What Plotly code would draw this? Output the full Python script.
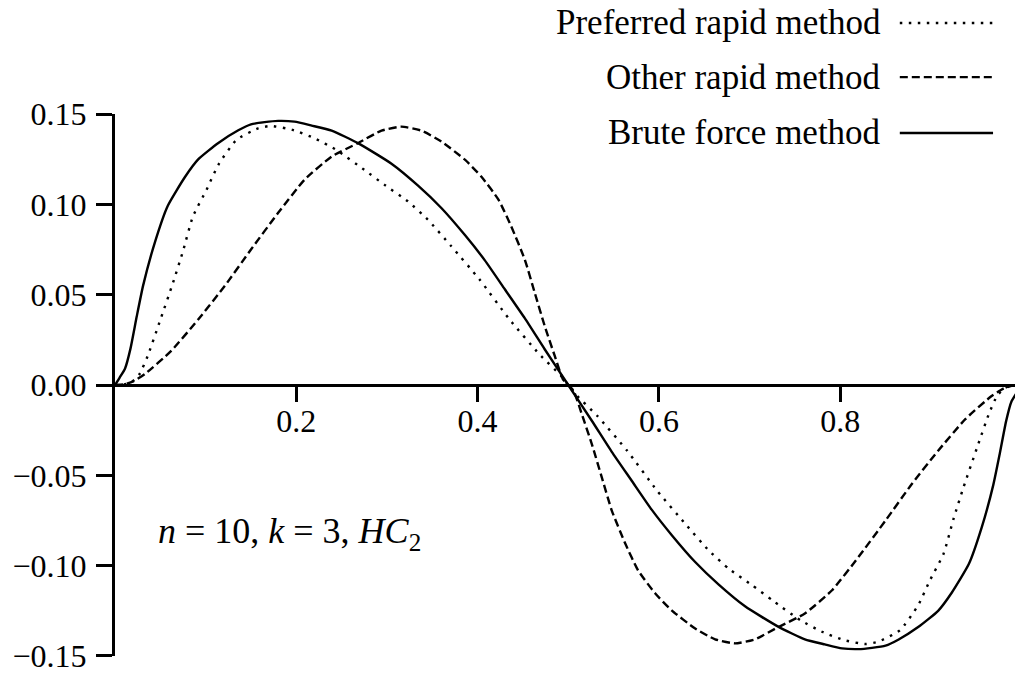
import plotly.graph_objects as go

# ---- data ----
brute_x = [0, 0.005, 0.011, 0.017, 0.024, 0.031, 0.044, 0.058, 0.077, 0.092, 0.114, 0.136, 0.150,
           0.165, 0.180, 0.198, 0.217, 0.239, 0.268, 0.305, 0.334, 0.360, 0.386, 0.408, 0.430,
           0.452, 0.474, 0.500,
           0.526, 0.548, 0.570, 0.592, 0.614, 0.640, 0.666, 0.695, 0.732, 0.761, 0.783, 0.802,
           0.820, 0.835, 0.850, 0.864, 0.886, 0.908, 0.923, 0.942, 0.956, 0.969, 0.976, 0.983,
           0.989, 0.995, 1.0]
brute_y = [0, 0.004, 0.009, 0.020, 0.038, 0.055, 0.079, 0.099, 0.115, 0.125, 0.134, 0.141, 0.1443,
           0.1455, 0.1462, 0.1458, 0.1436, 0.1408, 0.1339, 0.1225, 0.1105, 0.098, 0.083, 0.069, 0.053,
           0.037, 0.0198, 0,
           -0.0198, -0.037, -0.053, -0.069, -0.083, -0.098, -0.1105, -0.1225, -0.1339, -0.1408, -0.1436, -0.1458,
           -0.1462, -0.1455, -0.1443, -0.141, -0.134, -0.125, -0.115, -0.099, -0.079, -0.055, -0.038, -0.020,
           -0.009, -0.004, 0]

pref_x = [0, 0.010, 0.018, 0.027, 0.036, 0.049, 0.064, 0.075, 0.086, 0.101, 0.114, 0.134, 0.158,
          0.172, 0.196, 0.220, 0.244, 0.275, 0.297, 0.323, 0.345, 0.371, 0.402, 0.435, 0.468, 0.492, 0.5,
          0.508, 0.532, 0.565, 0.598, 0.629, 0.655, 0.677, 0.703, 0.725, 0.756, 0.780, 0.804, 0.828,
          0.842, 0.866, 0.886, 0.899, 0.914, 0.925, 0.936, 0.951, 0.964, 0.973, 0.982, 0.990, 1.0]
pref_y = [0, 0.0003, 0.0015, 0.006, 0.016, 0.0346, 0.0566, 0.0741, 0.0934, 0.1081, 0.1219, 0.1357, 0.1421,
          0.1434, 0.1412, 0.1366, 0.1302, 0.1191, 0.1109, 0.1017, 0.0916, 0.0768, 0.0585, 0.0364, 0.0171, 0.0051, 0,
          -0.0051, -0.0171, -0.0364, -0.0585, -0.0768, -0.0916, -0.1017, -0.1109, -0.1191, -0.1302, -0.1366, -0.1412, -0.1434,
          -0.1421, -0.1357, -0.1219, -0.1081, -0.0934, -0.0741, -0.0566, -0.0346, -0.016, -0.006, -0.0015, -0.0003, 0]

other_x = [0, 0.010, 0.020, 0.033, 0.062, 0.092, 0.121, 0.150, 0.180, 0.209, 0.239, 0.268, 0.294,
           0.316, 0.338, 0.360, 0.386, 0.404, 0.423, 0.437, 0.452, 0.463, 0.474, 0.485, 0.494, 0.5,
           0.506, 0.515, 0.526, 0.537, 0.548, 0.563, 0.577, 0.596, 0.614, 0.640, 0.662, 0.684, 0.706,
           0.732, 0.761, 0.791, 0.820, 0.850, 0.879, 0.908, 0.938, 0.967, 0.980, 0.990, 1.0]
other_y = [0, 0.0003, 0.002, 0.0061, 0.0189, 0.0364, 0.0548, 0.0750, 0.0953, 0.1136, 0.1265, 0.1339, 0.1408,
           0.143, 0.1408, 0.1348, 0.1247, 0.1154, 0.1026, 0.0879, 0.0695, 0.0511, 0.0327, 0.0162, 0.0033, 0,
           -0.0033, -0.0162, -0.0327, -0.0511, -0.0695, -0.0879, -0.1026, -0.1154, -0.1247, -0.1348, -0.1408, -0.143,
           -0.1408, -0.1339, -0.1265, -0.1136, -0.0953, -0.0750, -0.0548, -0.0364, -0.0189, -0.0061, -0.002, -0.0003, 0]

x_ticks = [0.2, 0.4, 0.6, 0.8]
x_tick_text = ["0.2", "0.4", "0.6", "0.8"]
y_ticks = [-0.15, -0.10, -0.05, 0.0, 0.05, 0.10, 0.15]
y_tick_text = ["\u22120.15", "\u22120.10", "\u22120.05", "0.00", "0.05", "0.10", "0.15"]

series_names = ["Preferred rapid method", "Other rapid method", "Brute force method"]
series_dash = ["2.5px,6.5px", "8px,4px", "solid"]

FONT = "Liberation Serif"

fig = go.Figure()
for name, xs, ys, dash in zip(series_names, [pref_x, other_x, brute_x], [pref_y, other_y, brute_y], series_dash):
    fig.add_trace(go.Scatter(x=xs, y=ys, mode="lines", name=name, showlegend=False,
                             line=dict(color="black", width=2.4, dash=dash, shape="spline", smoothing=0.5)))

# legend drawn manually (text on the left, sample on the right)
leg_y = [1.168, 1.068, 0.965]
for name, dash, ly in zip(series_names, series_dash, leg_y):
    fig.add_annotation(xref="paper", yref="paper", x=0.8535, y=ly, text=name, showarrow=False,
                       xanchor="right", yanchor="middle", font=dict(family=FONT, size=35, color="black"))
    fig.add_shape(type="line", xref="paper", yref="paper", x0=0.872, x1=0.9756, y0=ly, y1=ly,
                  line=dict(color="black", width=2.4, dash=dash))

fig.add_annotation(xref="paper", yref="paper", x=0.046, y=0.226,
                   text="<i>n</i> = 10, <i>k</i> = 3, <i>HC</i><sub>2</sub>",
                   showarrow=False, xanchor="left", yanchor="middle",
                   font=dict(family=FONT, size=36, color="black"))

fig.update_layout(
    width=1015, height=674,
    margin=dict(l=115, r=0, t=114, b=16, pad=0),
    paper_bgcolor="white", plot_bgcolor="white",
    font=dict(family=FONT, size=32, color="black"),
    xaxis=dict(range=[0, 0.9928], anchor="free", position=0.5, showline=True, linewidth=3,
               linecolor="black", ticks="outside", ticklen=15, tickwidth=2.5, tickcolor="black",
               tickvals=x_ticks, ticktext=x_tick_text, showgrid=False, zeroline=False,
               ticklabelstandoff=-8, ticklabeloverflow="allow"),
    yaxis=dict(range=[-0.15001, 0.15001], showline=True, linewidth=3, linecolor="black",
               ticks="outside", ticklen=16, tickwidth=2.5, tickcolor="black",
               tickvals=y_ticks, ticktext=y_tick_text, showgrid=False, zeroline=False,
               ticklabelstandoff=3, ticklabeloverflow="allow"),
)

fig.write_html("out.html")
